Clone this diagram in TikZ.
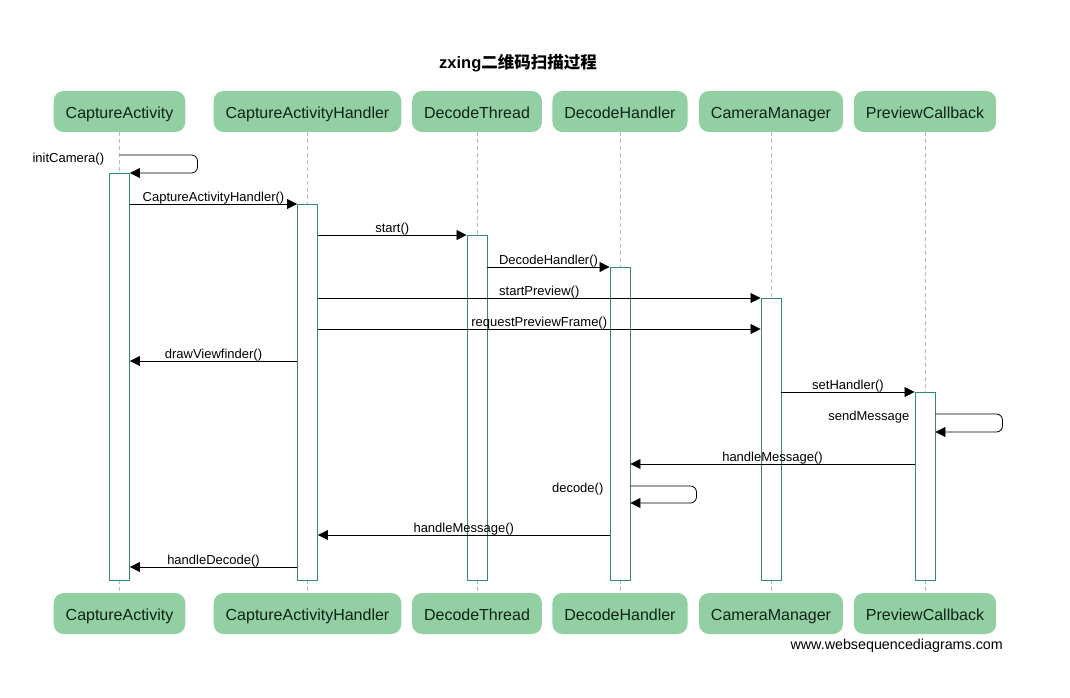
\documentclass[tikz,border=0pt]{standalone}
\usepackage{fontspec}
\setmainfont{Liberation Sans}
\newfontfamily\cjk{Noto Sans CJK SC}
\usetikzlibrary{arrows.meta}
\definecolor{boxgreen}{RGB}{146,208,164}
\definecolor{actline}{RGB}{47,138,120}
\definecolor{boxtext}{RGB}{16,36,22}
\tikzset{
  actor/.style={fill=boxgreen, rounded corners=10pt, minimum height=41pt,
    inner xsep=12pt, text height=13.5pt, text depth=0pt, text=boxtext,
    font=\fontsize{16}{19}\selectfont},
  act/.style={draw=actline, fill=white, line width=0.9pt, minimum width=20pt,
    inner sep=0pt, anchor=north},
  life/.style={draw=gray!55, dash pattern=on 4pt off 3pt, line width=0.6pt},
  msg/.style={-{Triangle[length=10pt,width=10pt]}, line width=0.8pt},
  lbl/.style={font=\fontsize{13}{15}\selectfont, inner sep=1pt}
}
\begin{document}
\begin{tikzpicture}[x=1pt,y=-1pt]
  \useasboundingbox (0,0) rectangle (1070,698);
  \node[font=\bfseries\fontsize{16.5}{19}\selectfont] (title) at (518,63)
    {zxing{\cjk 二维码扫描过程}};
  \draw[draw=none]
    (119.5,111.5) node[actor] (ca){CaptureActivity}
    (307.5,111.5) node[actor] (cah){CaptureActivityHandler}
    (477,111.5) node[actor] (dt){DecodeThread}
    (620,111.5) node[actor] (dh){DecodeHandler}
    (771,111.5) node[actor] (cm){CameraManager}
    (925,111.5) node[actor] (pc){PreviewCallback}
    (119.5,613.5) node[actor] (ca2){CaptureActivity}
    (307.5,613.5) node[actor] (cah2){CaptureActivityHandler}
    (477,613.5) node[actor] (dt2){DecodeThread}
    (620,613.5) node[actor] (dh2){DecodeHandler}
    (771,613.5) node[actor] (cm2){CameraManager}
    (925,613.5) node[actor] (pc2){PreviewCallback};
  \begin{scope}[life]
    \draw (ca) to (ca2);
    \draw (cah) to (cah2);
    \draw (dt) to (dt2);
    \draw (dh) to (dh2);
    \draw (cm) to (cm2);
    \draw (pc) to (pc2);
  \end{scope}
  % activation bars
  \node[act, minimum height=407pt] (aca) at (119.5,173) {};
  \node[act, minimum height=376pt] (acah) at (307.5,204) {};
  \node[act, minimum height=345pt] (adt) at (477,235) {};
  \node[act, minimum height=313pt] (adh) at (620,267) {};
  \node[act, minimum height=282pt] (acm) at (771,298) {};
  \node[act, minimum height=188pt] (apc) at (925,392) {};
  % message rows
  \path
    (0,155) coordinate (t0)
    (0,204) coordinate (t1)
    (0,235) coordinate (t2)
    (0,267) coordinate (t3)
    (0,298) coordinate (t4)
    (0,329) coordinate (t5)
    (0,361) coordinate (t6)
    (0,392) coordinate (t7)
    (0,414) coordinate (t8)
    (0,432) coordinate (t8b)
    (0,464) coordinate (t9)
    (0,486) coordinate (t10)
    (0,503) coordinate (t10b)
    (0,535) coordinate (t11)
    (0,567) coordinate (t12);
  \begin{scope}[msg, every node/.style={lbl, above=-1.5pt}]
    \draw[rounded corners=6pt] (ca.south |- t0)
      node[left=14pt, yshift=-3pt]{initCamera()}
      -- ++(78,0) |- (aca.north east);
    \draw (aca.east |- t1) -- node{CaptureActivityHandler()} (acah.west |- t1);
    \draw (acah.east |- t2) -- node{start()} (adt.west |- t2);
    \draw (adt.east |- t3) -- node{DecodeHandler()} (adh.west |- t3);
    \draw (acah.east |- t4) -- node{startPreview()} (acm.west |- t4);
    \draw (acah.east |- t5) -- node{requestPreviewFrame()} (acm.west |- t5);
    \draw (acah.west |- t6) -- node{drawViewfinder()} (aca.east |- t6);
    \draw (acm.east |- t7) -- node{setHandler()} (apc.west |- t7);
    \draw[rounded corners=6pt] (apc.east |- t8) -- ++(67,0) |- (apc.east |- t8b);
    \draw (apc.west |- t9) -- node{handleMessage()} (adh.east |- t9);
    \draw[rounded corners=6pt] (adh.east |- t10) -- ++(66,0) |- (adh.east |- t10b);
    \draw (adh.west |- t11) -- node{handleMessage()} (acah.east |- t11);
    \draw (acah.west |- t12) -- node{handleDecode()} (aca.east |- t12);
  \end{scope}
  \node[lbl, left=4pt, yshift=-3pt] (l8) at (apc.west |- t8) {sendMessage};
  \node[lbl, left=5pt, yshift=-3pt] (l10) at (adh.west |- t10) {decode()};
  \node[font=\fontsize{14.3}{17}\selectfont, inner sep=0pt, anchor=east] (site)
    at (1003,646) {www.websequencediagrams.com};
\end{tikzpicture}
\end{document}
